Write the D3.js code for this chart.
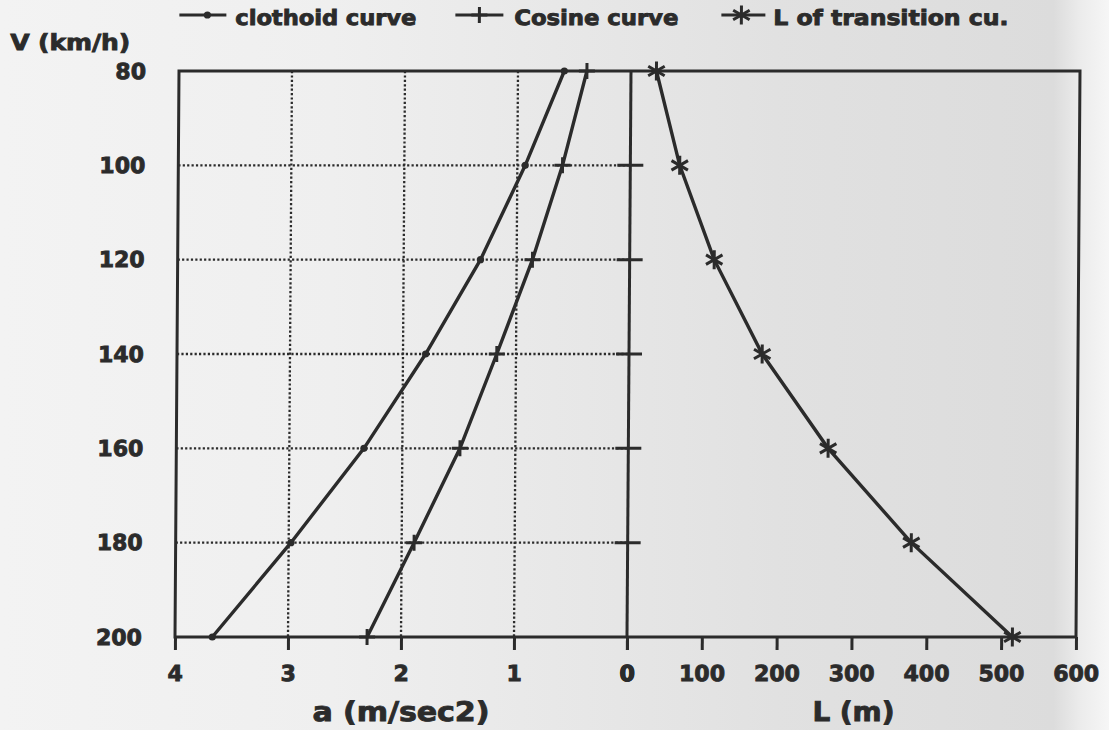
<!DOCTYPE html>
<html>
<head>
<meta charset="utf-8">
<script src="https://cdn.jsdelivr.net/npm/d3@7/dist/d3.min.js"></script>
<style>
  html, body { margin: 0; padding: 0; background: #e8e8e8; }
  svg { display: block; }
  text { font-family: "DejaVu Sans", "Liberation Sans", sans-serif; font-weight: bold; fill: #2b2b2b; stroke: #2b2b2b; stroke-width: 0.9px; }
</style>
</head>
<body>
<script>
// ---- data ----
const speeds = [80, 100, 120, 140, 160, 180, 200];          // V (km/h)
const clothoidA = [0.59, 0.93, 1.32, 1.80, 2.34, 2.98, 3.67]; // a (m/sec2)
const cosineA = [0.39, 0.60, 0.86, 1.17, 1.49, 1.89, 2.30];   // a (m/sec2)
const transitionL = [34, 66, 113, 178, 267, 379, 515];        // L (m)
const vTicks = [80, 100, 120, 140, 160, 180, 200];
const aTicks = [4, 3, 2, 1, 0];
const lTicks = [0, 100, 200, 300, 400, 500, 600];
const seriesNames = ["clothoid curve", "Cosine curve", "L of transition cu."];
const yTitle = "V (km/h)";
const aTitle = "a (m/sec2)";
const lTitle = "L (m)";

const W = 1109, H = 730;
const ink = "#2b2b2b";

const svg = d3.select("body").append("svg").attr("width", W).attr("height", H);

// scanned-paper background
const defs = svg.append("defs");
const grad = defs.append("linearGradient").attr("id", "paper").attr("x1", 0).attr("x2", 1).attr("y1", 0).attr("y2", 0);
[[0, "#f3f3f3"], [0.3, "#efefef"], [0.5, "#e8e8e8"], [0.7, "#e1e1e1"], [0.95, "#dcdcdc"], [0.975, "#ececec"], [1, "#f6f6f6"]]
  .forEach(([o, c]) => grad.append("stop").attr("offset", o).attr("stop-color", c));
svg.append("rect").attr("width", W).attr("height", H).attr("fill", "url(#paper)");

// slight scan skew
const g = svg.append("g").attr("transform", "translate(4.5,0) skewX(-0.405)");

// ---- scales ----
const xA = d3.scaleLinear().domain([4, 0]).range([175, 627]);
const xL = d3.scaleLinear().domain([0, 600]).range([627, 1076]);
const y = d3.scaleLinear().domain([80, 200]).range([71, 637]);

// ---- grid (left panel only, dotted) ----
const grid = g.append("g").attr("stroke", ink).attr("stroke-width", 2.3).attr("stroke-dasharray", "2.2,2.2");
grid.selectAll("line.v").data(aTicks.filter(d => d > 0 && d < 4)).join("line")
  .attr("x1", d => xA(d)).attr("x2", d => xA(d)).attr("y1", y(80)).attr("y2", y(200));
grid.selectAll("line.h").data(vTicks.filter(d => d > 80 && d < 200)).join("line")
  .attr("x1", xA(4)).attr("x2", xA(0)).attr("y1", d => y(d)).attr("y2", d => y(d));

// ---- frame ----
const frame = g.append("g").attr("stroke", ink).attr("stroke-width", 3).attr("fill", "none");
frame.append("rect").attr("x", xA(4)).attr("y", y(80)).attr("width", xL(600) - xA(4)).attr("height", y(200) - y(80));
frame.append("line").attr("x1", xA(0)).attr("x2", xA(0)).attr("y1", y(80)).attr("y2", y(200));
// y ticks across the central axis
frame.selectAll("line.yt").data(vTicks.filter(d => d > 80 && d < 200)).join("line")
  .attr("x1", xA(0) - 13).attr("x2", xA(0) + 13).attr("y1", d => y(d)).attr("y2", d => y(d));

// ---- axes ----
function styleAxis(sel) {
  sel.select(".domain").remove();
  sel.selectAll(".tick line").attr("stroke", ink).attr("stroke-width", 3);
  sel.selectAll(".tick text").attr("fill", ink).attr("stroke", ink).attr("stroke-width", 0.9)
    .style("font-size", "22px")
    .style("font-family", '"DejaVu Sans", sans-serif').style("font-weight", "bold");
}
g.append("g").attr("transform", `translate(0,${y(200)})`)
  .call(d3.axisBottom(xA).tickValues(aTicks).tickSize(13).tickPadding(15).tickFormat(d3.format("d")))
  .call(styleAxis);
g.append("g").attr("transform", `translate(0,${y(200)})`)
  .call(d3.axisBottom(xL).tickValues(lTicks).tickSize(13).tickPadding(15).tickFormat(d3.format("d")))
  .call(styleAxis);
g.append("g").attr("transform", `translate(${xA(4)},0)`)
  .call(d3.axisLeft(y).tickValues(vTicks).tickSize(0).tickPadding(33).tickFormat(d3.format("d")))
  .call(styleAxis);

// ---- titles ----
g.append("text").attr("x", 6).attr("y", 50).attr("textLength", 120).attr("lengthAdjust", "spacingAndGlyphs")
  .style("font-size", "22px").text(yTitle);
g.append("text").attr("x", 313).attr("y", 721).attr("textLength", 177).attr("lengthAdjust", "spacingAndGlyphs")
  .style("font-size", "27px").text(aTitle);
g.append("text").attr("x", 813).attr("y", 721).attr("textLength", 82).attr("lengthAdjust", "spacingAndGlyphs")
  .style("font-size", "27px").text(lTitle);

// ---- markers ----
function dotMarker(sel, x, yy) {
  sel.append("circle").attr("cx", x).attr("cy", yy).attr("r", 3.6).attr("fill", ink);
}
function plusMarker(sel, x, yy) {
  sel.append("path").attr("d", `M${x - 8},${yy}H${x + 8}M${x},${yy - 8}V${yy + 8}`)
    .attr("stroke", ink).attr("stroke-width", 3).attr("fill", "none");
}
function starMarker(sel, x, yy) {
  const r = 9.5;
  let d = "";
  [90, 30, -30].forEach(a => {
    const dx = r * Math.cos(a * Math.PI / 180), dy = r * Math.sin(a * Math.PI / 180);
    d += `M${x - dx},${yy - dy}L${x + dx},${yy + dy}`;
  });
  sel.append("path").attr("d", d).attr("stroke", ink).attr("stroke-width", 3).attr("fill", "none");
}

// ---- series ----
const lineA = d3.line().x(d => xA(d[1])).y(d => y(d[0]));
const lineL = d3.line().x(d => xL(d[1])).y(d => y(d[0]));
const clothoidData = speeds.map((v, i) => [v, clothoidA[i]]);
const cosineData = speeds.map((v, i) => [v, cosineA[i]]);
const lData = speeds.map((v, i) => [v, transitionL[i]]);

const series = g.append("g");
series.append("path").datum(clothoidData).attr("d", lineA).attr("fill", "none").attr("stroke", ink).attr("stroke-width", 3.4);
series.append("path").datum(cosineData).attr("d", lineA).attr("fill", "none").attr("stroke", ink).attr("stroke-width", 3.4);
series.append("path").datum(lData).attr("d", lineL).attr("fill", "none").attr("stroke", ink).attr("stroke-width", 3.4);
clothoidData.forEach(d => dotMarker(series, xA(d[1]), y(d[0])));
cosineData.forEach(d => plusMarker(series, xA(d[1]), y(d[0])));
lData.forEach(d => starMarker(series, xL(d[1]), y(d[0])));

// ---- legend ----
const leg = g.append("g");
const legItems = [
  { name: seriesNames[0], x1: 175, x2: 222, mx: 203, tx: 231, tw: 181, mk: dotMarker },
  { name: seriesNames[1], x1: 451, x2: 499, mx: 475, tx: 510, tw: 164, mk: plusMarker },
  { name: seriesNames[2], x1: 717, x2: 761, mx: 737, tx: 769, tw: 235, mk: starMarker }
];
legItems.forEach(it => {
  leg.append("line").attr("x1", it.x1).attr("x2", it.x2).attr("y1", 15).attr("y2", 15)
    .attr("stroke", ink).attr("stroke-width", 3);
  it.mk(leg, it.mx, 15);
  leg.append("text").attr("x", it.tx).attr("y", 25).attr("textLength", it.tw).attr("lengthAdjust", "spacingAndGlyphs")
    .style("font-size", "21px").text(it.name);
});
</script>
</body>
</html>
